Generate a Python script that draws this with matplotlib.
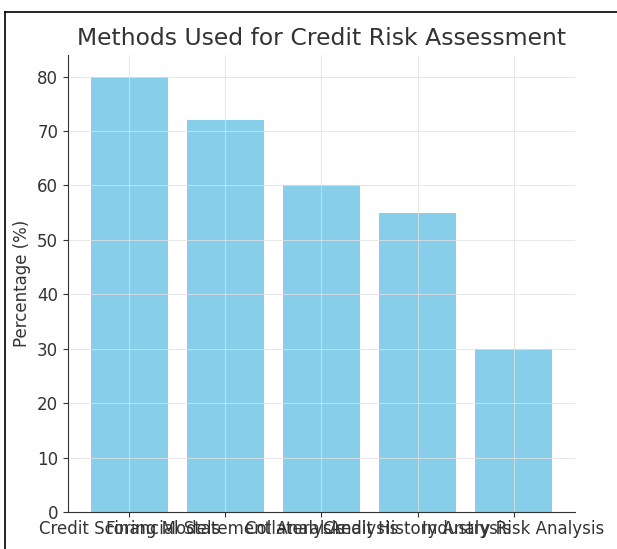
import matplotlib
matplotlib.use("Agg")
import matplotlib.pyplot as plt
from matplotlib.lines import Line2D

categories = ["Credit Scoring Models", "Financial Statement Analysis",
              "Collateral Analysis", "Credit History Analysis",
              "Industry Risk Analysis"]
values = [80, 72, 60, 55, 30]
yticks = [0, 10, 20, 30, 40, 50, 60, 70, 80]

plt.rcParams['font.family'] = ['DejaVu Sans']
fig = plt.figure(figsize=(6.17, 5.49), dpi=100)
ax = fig.add_axes([0.110, 0.0674, 0.822, 0.8326])

ax.bar(categories, values, color="#87CEEB", width=0.8)
ax.grid(True, color="#e0e0e0", linewidth=0.7, alpha=0.8)
ax.set_yticks(yticks)
ax.set_title("Methods Used for Credit Risk Assessment", fontsize=16.9,
             color="#333333", pad=7)
ax.set_ylabel("Percentage (%)", fontsize=12, color="#333333")
ax.tick_params(labelsize=12, labelcolor="#333333", color="#333333")
ax.tick_params(axis="x", pad=2)
for s in ["top", "right"]:
    ax.spines[s].set_visible(False)
for s in ["left", "bottom"]:
    ax.spines[s].set_color("#333333")

# screenshot frame lines (top and left)
fig.add_artist(Line2D([5/617, 1.0], [1-12/549, 1-12/549], color="black",
                      linewidth=1.2, transform=fig.transFigure))
fig.add_artist(Line2D([5/617, 5/617], [0.0, 1-12/549], color="black",
                      linewidth=1.2, transform=fig.transFigure))

fig.savefig("out.png", dpi=100)
